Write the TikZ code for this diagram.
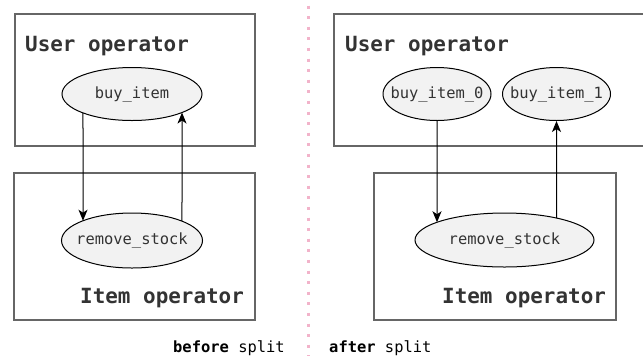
\documentclass[tikz,border=0pt]{standalone}
\usepackage{fontspec}
\setmonofont{DejaVu Sans Mono}
\usetikzlibrary{shapes.geometric,arrows.meta,intersections}
\definecolor{boxline}{HTML}{666666}
\definecolor{txt}{HTML}{333333}
\definecolor{nodefill}{HTML}{F2F2F2}
\definecolor{sep}{HTML}{F2B3CA}
\tikzset{
  opbox/.style={draw=boxline, line width=2bp},
  oplabel/.style={text=txt, font=\ttfamily\bfseries\fontsize{21}{24}\selectfont, inner sep=0pt, anchor=base west},
  fn/.style={ellipse, draw=black, line width=1bp, fill=nodefill, text=txt,
    font=\ttfamily\fontsize{15.5}{18}\selectfont, inner sep=0pt},
  call/.style={draw=black, line width=1bp, -{Stealth[length=11bp,width=9bp,inset=3bp]}},
  caption/.style={text=black, font=\ttfamily\fontsize{15.5}{18}\selectfont, inner sep=0pt, anchor=base west}
}
% text of a call node, kept from widening the ellipse
\newcommand{\fnname}[1]{\makebox[0pt]{#1}}
\begin{document}
\begin{tikzpicture}[x=1bp, y=-1bp]
\useasboundingbox (0,0) rectangle (643,356);
\clip (0,0) rectangle (643,356);
\fill[white] (0,0) rectangle (643,356);

% split marker
\draw[sep, line width=3bp, dash pattern=on 3bp off 7.6bp] (308,5.5) -- (308,356);

% ---- before split ----
\draw[opbox] (15,14) rectangle (255,146);
\draw[opbox] (14,173) rectangle (255,320);
\node[oplabel] (ul) at (25,51) {User operator};
\node[oplabel] (il) at (80,303) {Item operator};
\node[fn, minimum width=140bp, minimum height=53bp, name path=buyE] (buy) at (132,94) {\fnname{buy\_item}};
\node[fn, minimum width=141bp, minimum height=55bp, name path=rsE] (rs) at (132,240.5) {\fnname{remove\_stock}};

% vertical guides, each running downwards through both ellipses
\path[name path=v1] (83,60) -- (83,280);
\path[name path=v2] (182,60) -- (182,280);
\path[name intersections={of=v1 and buyE, sort by=v1, by={a1t,a1}}];
\path[name intersections={of=v1 and rsE, sort by=v1, by={b1,b1b}}];
\path[name intersections={of=v2 and buyE, sort by=v2, by={a2t,a2}}];
\path[name intersections={of=v2 and rsE, sort by=v2, by={b2,b2b}}];
\draw[call] (a1) -- (b1);
\draw[call] (b2) -- (a2);

% ---- after split ----
\draw[opbox] (334,14) rectangle (660,146);
\draw[opbox] (374,173) rectangle (616,320);
\node[oplabel] (ur) at (345,51) {User operator};
\node[oplabel] (ir) at (442,303) {Item operator};
\node[fn, minimum width=108bp, minimum height=53bp] (buy0) at (437,94) {\fnname{buy\_item\_0}};
\node[fn, minimum width=108bp, minimum height=53bp] (buy1) at (556.5,94) {\fnname{buy\_item\_1}};
\node[fn, minimum width=179bp, minimum height=54bp, name path=rs2E] (rs2) at (504.5,240) {\fnname{remove\_stock}};

\path[name path=v3] (buy0.south) -- ++(0,150);
\path[name path=v4] (buy1.south) -- ++(0,150);
\path[name intersections={of=v3 and rs2E, sort by=v3, by={b3,b3b}}];
\path[name intersections={of=v4 and rs2E, sort by=v4, by={b4,b4b}}];
\draw[call] (buy0.south) -- (b3);
\draw[call] (b4) -- (buy1.south);

% captions
\node[caption] (cb) at (173,352) {\textbf{before} split};
\node[caption] (ca) at (329,352) {\textbf{after} split};
\end{tikzpicture}
\end{document}
